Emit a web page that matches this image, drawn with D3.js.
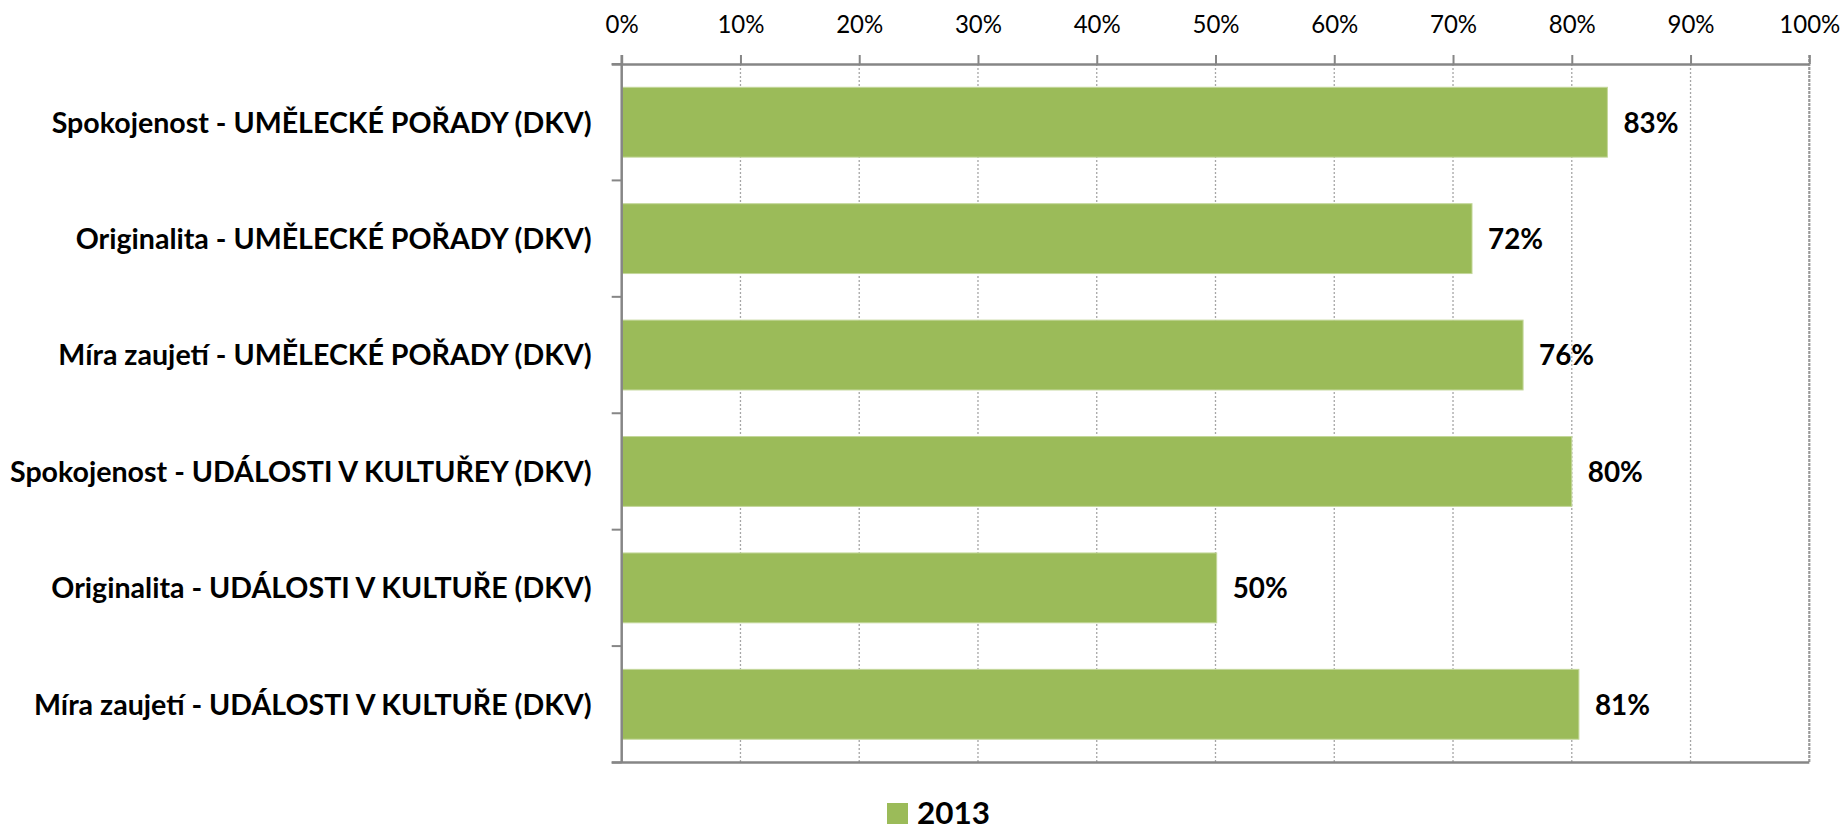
<!DOCTYPE html>
<html>
<head>
<meta charset="utf-8">
<script src="https://cdn.jsdelivr.net/npm/d3@7"></script>
<style>
  html, body { margin: 0; padding: 0; background: #fff; }
  svg { display: block; }
</style>
</head>
<body>
<svg id="chart" width="1847" height="835"></svg>
<script>
// ---- data ----
const categories = [
  "Spokojenost - UMĚLECKÉ POŘADY (DKV)",
  "Originalita - UMĚLECKÉ POŘADY (DKV)",
  "Míra zaujetí - UMĚLECKÉ POŘADY (DKV)",
  "Spokojenost - UDÁLOSTI V KULTUŘEY (DKV)",
  "Originalita - UDÁLOSTI V KULTUŘE (DKV)",
  "Míra zaujetí - UDÁLOSTI V KULTUŘE (DKV)"
];
const values2013 = [0.83, 0.716, 0.759, 0.80, 0.501, 0.806];
const seriesName = "2013";
const xTicks = [0, 0.1, 0.2, 0.3, 0.4, 0.5, 0.6, 0.7, 0.8, 0.9, 1.0];

(function () {
// ---- layout ----
const svg = d3.select("#chart");
const FONT = "Lato, 'Open Sans', sans-serif";
const CAP = 0.7165; // Lato cap height ratio
const pLeft = 621.7, pRight = 1809.3, pTop = 64, pBottom = 762.5;
const barColor = "#9BBB59";
const axisColor = "#868686";

const x = d3.scaleLinear().domain([0, 1]).range([pLeft, pRight]);
const y = d3.scaleBand().domain(categories).range([pTop, pBottom]).paddingInner(0.4).paddingOuter(0.2);

// helper: font size from target cap height, horizontal squeeze to target width
function fitBox(str, weight, targetW, capH) {
  const size = capH / CAP;
  const t = svg.append("text").attr("font-family", FONT).attr("font-weight", weight)
    .attr("font-size", size).text(str);
  const w = t.node().getComputedTextLength();
  t.remove();
  return { size, sx: Math.min(1.05, targetW / w) };
}
const cat = fitBox(categories[3], "bold", 582, 20.6);
const tick = fitBox("100%", "normal", 61, 17.3);
const val = fitBox("83%", "bold", 55, 20.8);
const leg = fitBox("2013", "bold", 73, 22.5);

// gridlines (dotted)
svg.append("g").selectAll("line").data(xTicks.filter(d => d > 0 && d < 1)).join("line")
  .attr("x1", d => x(d)).attr("x2", d => x(d))
  .attr("y1", pTop).attr("y2", pBottom)
  .attr("stroke", "#a6a6a6").attr("stroke-width", 1.3)
  .attr("stroke-dasharray", "2,2");
// right border line at 100%
svg.append("line").attr("x1", x(1)).attr("x2", x(1)).attr("y1", pTop - 9).attr("y2", pBottom)
  .attr("stroke", "#999").attr("stroke-width", 2.2).attr("stroke-dasharray", "3,1");

// bars
svg.append("g").selectAll("rect").data(categories).join("rect")
  .attr("x", x(0))
  .attr("y", d => y(d))
  .attr("width", (d, i) => x(values2013[i]) - x(0))
  .attr("height", y.bandwidth())
  .attr("fill", barColor)
  .attr("stroke", "#c4d79b").attr("stroke-width", 1);

// top axis
const xAxis = d3.axisTop(x).tickValues(xTicks).tickFormat(d3.format(".0%")).tickSize(9).tickPadding(22);
const gx = svg.append("g").attr("transform", `translate(0,${pTop})`).call(xAxis);
gx.select(".domain").attr("stroke", axisColor).attr("stroke-width", 2.5)
  .attr("d", `M${pLeft - 10},0.5H${pRight}`);
gx.selectAll(".tick line").attr("stroke", axisColor).attr("stroke-width", 2);
gx.selectAll(".tick text").attr("font-family", FONT).attr("font-size", tick.size).attr("fill", "#000")
  .attr("transform", `scale(${tick.sx},1)`);

// left axis line with ticks at band boundaries
const bounds = d3.range(categories.length + 1).map(i => pTop + i * (pBottom - pTop) / categories.length);
svg.append("line").attr("x1", pLeft).attr("x2", pLeft).attr("y1", pTop - 9).attr("y2", pBottom)
  .attr("stroke", axisColor).attr("stroke-width", 2.5);
svg.append("g").selectAll("line").data(bounds).join("line")
  .attr("x1", pLeft - 10).attr("x2", pLeft).attr("y1", d => d).attr("y2", d => d)
  .attr("stroke", axisColor).attr("stroke-width", 2);
// bottom line
svg.append("line").attr("x1", pLeft - 10).attr("x2", pRight).attr("y1", pBottom).attr("y2", pBottom)
  .attr("stroke", axisColor).attr("stroke-width", 2.5);

// category labels
svg.append("g").selectAll("text").data(categories).join("text")
  .attr("transform", d => `translate(${pLeft - 30},${y(d) + y.bandwidth() / 2}) scale(${cat.sx},1)`)
  .attr("dy", "0.36em")
  .attr("text-anchor", "end")
  .attr("font-family", FONT).attr("font-weight", "bold").attr("font-size", cat.size)
  .attr("fill", "#000")
  .text(d => d);

// value labels
svg.append("g").selectAll("text").data(categories).join("text")
  .attr("transform", (d, i) => `translate(${x(values2013[i]) + 16},${y(d) + y.bandwidth() / 2}) scale(${val.sx},1)`)
  .attr("dy", "0.36em")
  .attr("font-family", FONT).attr("font-weight", "bold").attr("font-size", val.size)
  .attr("fill", "#000")
  .text((d, i) => d3.format(".0%")(values2013[i]));

// legend
const lg = svg.append("g");
lg.append("rect").attr("x", 887).attr("y", 803).attr("width", 21).attr("height", 21).attr("fill", barColor);
lg.append("text").attr("transform", `translate(917,824) scale(${leg.sx},1)`)
  .attr("font-family", FONT).attr("font-weight", "bold").attr("font-size", leg.size)
  .attr("fill", "#000").text(seriesName);
})();
</script>
</body>
</html>
